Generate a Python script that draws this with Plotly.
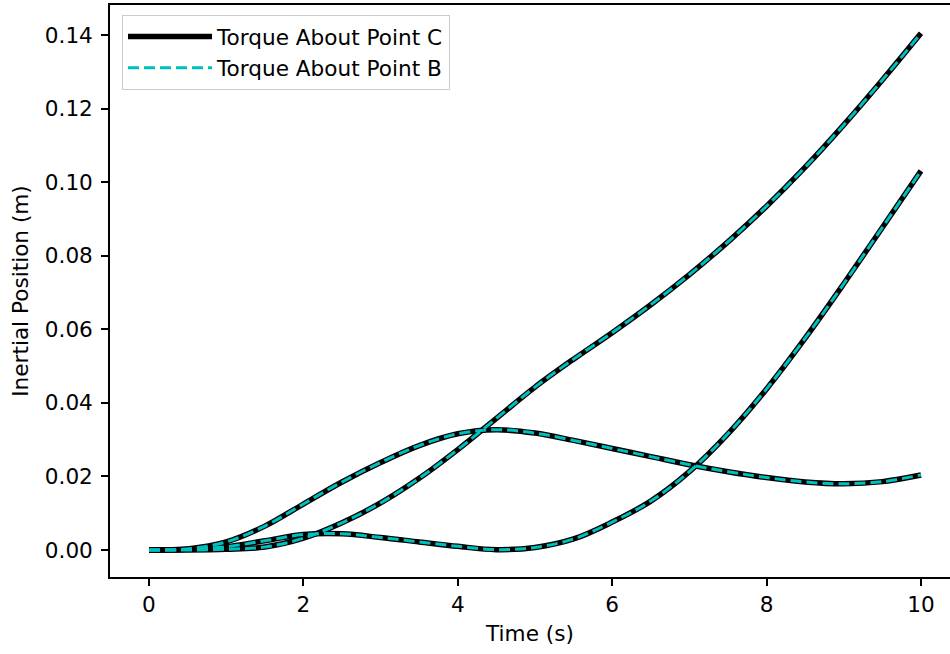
import plotly.graph_objects as go

# time samples (s)
t = [0, 0.5, 1, 1.5, 2, 2.5, 3, 3.5, 4, 4.5, 5, 5.5, 6, 6.5, 7, 7.5, 8, 8.5, 9, 9.5, 10]

# three position components (m)
pos_a = [0, 0.0000, 0.0002, 0.0008, 0.0032, 0.0074, 0.0128, 0.0195, 0.0273, 0.0358, 0.0443,
         0.0519, 0.0591, 0.0667, 0.0749, 0.0838, 0.0935, 0.1041, 0.1156, 0.1278, 0.1405]
pos_b = [0, 0.0003, 0.0022, 0.0065, 0.0125, 0.0185, 0.0238, 0.0284, 0.0316, 0.0327, 0.0318,
         0.0298, 0.0276, 0.0254, 0.0232, 0.0213, 0.0197, 0.0185, 0.0180, 0.0186, 0.0204]
pos_c = [0, 0.0002, 0.0009, 0.0025, 0.0042, 0.0044, 0.0034, 0.0022, 0.0010, 0.0001, 0.0007,
         0.0030, 0.0076, 0.0133, 0.0213, 0.0316, 0.0438, 0.0576, 0.0724, 0.0877, 0.1031]

series_c = [pos_a, pos_b, pos_c]   # torque about point C
series_b = [pos_a, pos_b, pos_c]   # torque about point B (coincident)

x_ticks = [0, 2, 4, 6, 8, 10]
y_ticks = [0.00, 0.02, 0.04, 0.06, 0.08, 0.10, 0.12, 0.14]

FONT = "DejaVu Sans"
FS = 21.6

fig = go.Figure()
for i, ys in enumerate(series_c):
    fig.add_trace(go.Scatter(
        x=t, y=ys, mode="lines", name="Torque About Point C",
        legendgroup="C", showlegend=(i == 0),
        line=dict(color="black", width=5.5, shape="spline", smoothing=1.0),
    ))
for i, ys in enumerate(series_b):
    fig.add_trace(go.Scatter(
        x=t, y=ys, mode="lines", name="Torque About Point B",
        legendgroup="B", showlegend=(i == 0),
        line=dict(color="#00bfbf", width=3, dash="11px,5px", shape="spline", smoothing=1.0),
    ))

axis_common = dict(
    showgrid=False, zeroline=False, showline=True, linecolor="black", linewidth=1.6,
    ticks="outside", ticklen=7, tickwidth=1.6, tickcolor="black",
    tickfont=dict(family=FONT, size=FS, color="black"),
)

fig.update_layout(
    width=950, height=654,
    margin=dict(l=110, r=0, t=5, b=77),
    paper_bgcolor="white", plot_bgcolor="white",
    font=dict(family=FONT, size=FS, color="black"),
    xaxis=dict(range=[-0.505, 10.376], tickvals=x_ticks, ticktext=[str(v) for v in x_ticks],
               mirror=True, title=dict(text="Time (s)", font=dict(family=FONT, size=FS), standoff=10),
               **axis_common),
    yaxis=dict(range=[-0.00734, 0.1482], tickvals=y_ticks, ticktext=[f"{v:.2f}" for v in y_ticks],
               mirror=False, ticklabelstandoff=4,
               title=dict(text="Inertial Position (m)", font=dict(family=FONT, size=FS), standoff=10),
               **axis_common),
    legend=dict(x=0.0143, y=0.9825, xanchor="left", yanchor="top",
                bgcolor="rgba(255,255,255,0.8)", bordercolor="#cccccc", borderwidth=1,
                font=dict(family=FONT, size=FS), itemwidth=84, tracegroupgap=0),
    showlegend=True,
)

fig.write_html("out.html")
